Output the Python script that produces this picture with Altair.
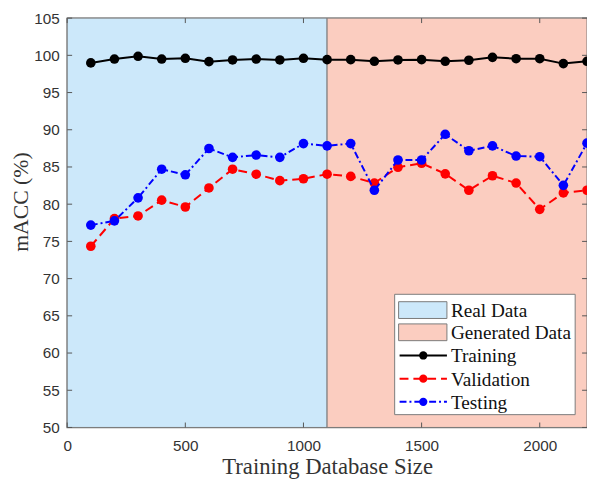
import altair as alt
import pandas as pd

sizes = [100, 200, 300, 400, 500, 600, 700, 800, 900, 1000, 1100,
         1200, 1300, 1400, 1500, 1600, 1700, 1800, 1900, 2000, 2100, 2200]
training = [98.98, 99.5, 99.87, 99.5, 99.6, 99.15, 99.38, 99.5, 99.38, 99.6, 99.42,
            99.42, 99.2, 99.38, 99.42, 99.2, 99.34, 99.73, 99.55, 99.55, 98.89, 99.2]
validation = [74.35, 78.06, 78.42, 80.54, 79.62, 82.18, 84.7, 84.03, 83.16, 83.42, 84.03,
              83.73, 82.84, 84.96, 85.5, 84.08, 81.87, 83.82, 82.84, 79.31, 81.51, 81.87]
testing = [77.19, 77.76, 80.85, 84.7, 83.95, 87.48, 86.29, 86.6, 86.29, 88.14, 87.84,
           88.14, 81.87, 85.94, 85.94, 89.39, 87.18, 87.84, 86.47, 86.38, 82.53, 88.2]

region_names = ["Real Data", "Generated Data"]
region_start = [0, 1100]
region_end = [1100, 2200]
region_colors = ["#cce8fa", "#fbcdc0"]

x_ticks = [0, 500, 1000, 1500, 2000]
y_ticks = [50, 55, 60, 65, 70, 75, 80, 85, 90, 95, 100, 105]

W, H = 527, 415
GRAY = "#7a7a7a"
SERIF = "Liberation Serif"

x_scale = alt.Scale(domain=[0, 2200], nice=False, zero=False)
y_scale = alt.Scale(domain=[50, 105], nice=False, zero=False)
X_TITLE = "Training Database Size"
Y_TITLE = "mACC (%)"

x_axis = alt.Axis(values=x_ticks, ticks=False, domain=False, grid=False, format="d",
                  labelOverlap=False, labelFlush=False,
                  labelFont="Liberation Sans", labelFontSize=15.5, labelColor="#333333",
                  labelPadding=11, titleFont=SERIF, titleFontSize=23,
                  titleFontWeight="normal", titleColor="#333333", titlePadding=2)
y_axis = alt.Axis(values=y_ticks, ticks=False, domain=False, grid=False, format="d",
                  labelOverlap=False, labelFlush=False,
                  labelFont="Liberation Sans", labelFontSize=15.5, labelColor="#333333",
                  labelPadding=8, titleFont=SERIF, titleFontSize=22,
                  titleFontWeight="normal", titleColor="#333333",
                  titleAngle=270, titleAlign="center", titleBaseline="middle",
                  titleX=-47, titleY=186)


def X(field):
    return alt.X(field, scale=x_scale, axis=x_axis, title=X_TITLE)


def Y(field):
    return alt.Y(field, scale=y_scale, axis=y_axis, title=Y_TITLE)


regions = pd.DataFrame({"name": region_names, "x0": region_start, "x1": region_end,
                        "c": region_colors, "y0": [50, 50], "y1": [105, 105]})
reg = alt.Chart(regions).mark_rect(stroke=GRAY, strokeWidth=1).encode(
    x=X("x0:Q"), x2="x1:Q",
    y=Y("y0:Q"), y2="y1:Q",
    fill=alt.Fill("c:N", scale=None, legend=None),
)

series = [
    ("Training", training, "#000000", []),
    ("Validation", validation, "#ff0000", [9, 5]),
    ("Testing", testing, "#0000ff", [7, 3, 2, 3]),
]

line_layers = []
for name, vals, col, dash in series:
    df = pd.DataFrame({"size": sizes, "acc": vals})
    kw = dict(color=col, strokeWidth=2)
    if dash:
        kw["strokeDash"] = dash
    ln = alt.Chart(df).mark_line(**kw).encode(x=X("size:Q"), y=Y("acc:Q"))
    pt = alt.Chart(df).mark_circle(color=col, size=95, opacity=1).encode(
        x=X("size:Q"), y=Y("acc:Q"))
    line_layers += [ln, pt]

xt = pd.DataFrame({"t": x_ticks})
yt = pd.DataFrame({"t": y_ticks})
tick_layers = [
    alt.Chart(xt).mark_rule(color="#555555", strokeWidth=1).encode(
        x=X("t:Q"), y=alt.value(H), y2=alt.value(H - 5)),
    alt.Chart(xt).mark_rule(color="#555555", strokeWidth=1).encode(
        x=X("t:Q"), y=alt.value(0), y2=alt.value(5)),
    alt.Chart(yt).mark_rule(color="#555555", strokeWidth=1).encode(
        y=Y("t:Q"), x=alt.value(0), x2=alt.value(5)),
    alt.Chart(yt).mark_rule(color="#555555", strokeWidth=1).encode(
        y=Y("t:Q"), x=alt.value(W), x2=alt.value(W - 5)),
]

one = pd.DataFrame({"k": [0]})
LX0, LX1, LY0, LY1 = 332, 515, 280, 402
leg = [alt.Chart(one).mark_rect(fill="white", stroke=GRAY, strokeWidth=1).encode(
    x=alt.value(LX0), x2=alt.value(LX1), y=alt.value(LY0), y2=alt.value(LY1))]
rows_y = [296, 318.5, 342, 365.5, 389]
for i, nm in enumerate(region_names):
    cy = rows_y[i]
    leg.append(alt.Chart(one).mark_rect(fill=region_colors[i], stroke=GRAY, strokeWidth=1).encode(
        x=alt.value(336), x2=alt.value(385), y=alt.value(cy - 8.5), y2=alt.value(cy + 8.5)))
for j, (name, vals, col, dash) in enumerate(series):
    cy = rows_y[2 + j]
    kw = dict(color=col, strokeWidth=2)
    if dash:
        kw["strokeDash"] = dash
    leg.append(alt.Chart(one).mark_rule(**kw).encode(
        x=alt.value(337), x2=alt.value(385), y=alt.value(cy)))
    leg.append(alt.Chart(one).mark_circle(color=col, size=70, opacity=1).encode(
        x=alt.value(361), y=alt.value(cy)))
for i, nm in enumerate(region_names + [s[0] for s in series]):
    leg.append(alt.Chart(one).mark_text(align="left", baseline="middle", font=SERIF,
                                        fontSize=19.5, color="#111111").encode(
        x=alt.value(389), y=alt.value(rows_y[i] + 1), text=alt.value(nm)))

chart = alt.layer(reg, *tick_layers, *line_layers, *leg).properties(
    width=W, height=H,
    autosize=alt.AutoSizeParams(type="none"),
    padding={"left": 60, "top": 7, "right": 0, "bottom": 50},
).configure_view(stroke=GRAY, strokeWidth=1.5)

chart.save("out.html", embed_options={"renderer": "svg", "actions": False})
